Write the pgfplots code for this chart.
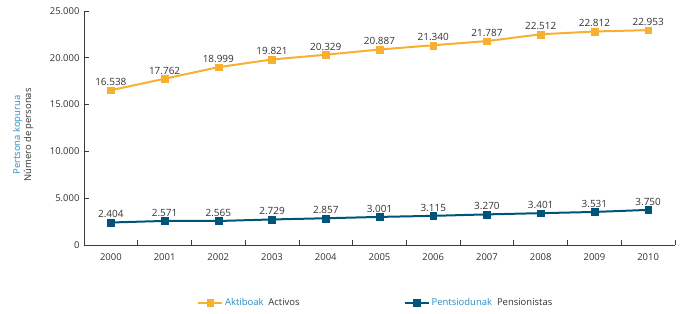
\documentclass[border=0pt]{standalone}
\usepackage{pgfplots}
\pgfplotsset{compat=1.18}
\usepackage{fontspec}
\setmainfont{Open Sans}
\definecolor{act}{RGB}{248,176,50}
\definecolor{pen}{RGB}{0,84,122}
\definecolor{lblue}{RGB}{42,140,196}
\definecolor{txt}{RGB}{51,51,51}
\definecolor{axc}{RGB}{60,60,60}
\begin{document}
\begin{tikzpicture}
\begin{axis}[
  scale only axis, width=591bp, height=234bp,
  xmin=-0.5, xmax=10.5, ymin=0, ymax=25000,
  axis lines=left, axis line style={axc, line width=0.8bp, -},
  every tick/.style={axc, line width=0.8bp},
  tick align=inside, major tick length=5bp,
  xtick={0.5,1.5,2.5,3.5,4.5,5.5,6.5,7.5,8.5,9.5,10.5},
  xticklabels={},
  extra x ticks={0,1,2,3,4,5,6,7,8,9,10},
  extra x tick labels={2000,2001,2002,2003,2004,2005,2006,2007,2008,2009,2010},
  extra x tick style={major tick length=0pt, tick style={draw=none}},
  ytick={0,5000,10000,15000,20000,25000},
  /pgf/number format/.cd, 1000 sep={.}, assume math mode=true,
  /pgfplots/.cd,
  scaled y ticks=false,
  tick label style={font=\fontsize{9.5}{11}\selectfont, text=txt},
  xticklabel style={yshift=-5bp},
  yticklabel style={xshift=-1bp},
  ylabel={\textcolor{lblue}{Pertsona kopurua}\\\textcolor{txt}{Número de personas}},
  ylabel style={at={(axis description cs:-0.103,0.47)}, anchor=center, align=center, font=\fontsize{9.5}{11}\selectfont},
  nodes near coords, nodes near coords align={above},
  every node near coord/.append style={font=\fontsize{10}{12}\selectfont, text=txt, yshift=1bp},
  legend columns=2,
  legend style={draw=none, at={(axis description cs:0.186,-0.248)}, anchor=west, font=\fontsize{9.5}{11}\selectfont, /tikz/every even column/.append style={column sep=102bp}},
  legend image code/.code={\draw[mark repeat=2,mark phase=2,#1] plot coordinates {(0bp,0bp) (12bp,0bp) (24bp,0bp)};},
  clip=false,
]
\addplot[act, line width=2bp, mark=square*, mark size=3.4bp, mark options={solid, line width=0.3bp}] coordinates {
(0,16538) (1,17762) (2,18999) (3,19821) (4,20329) (5,20887) (6,21340) (7,21787) (8,22512) (9,22812) (10,22953)};
\addlegendentry{\textcolor{lblue}{Aktiboak}\ \ \textcolor{txt}{Activos}}
\addplot[pen, line width=2bp, mark=square*, mark size=3.4bp, mark options={solid, line width=0.3bp}] coordinates {
(0,2404) (1,2571) (2,2565) (3,2729) (4,2857) (5,3001) (6,3115) (7,3270) (8,3401) (9,3531) (10,3750)};
\addlegendentry{\textcolor{lblue}{Pentsiodunak}\ \ \textcolor{txt}{Pensionistas}}
\end{axis}
\path[use as bounding box] (-84bp,-69bp) rectangle (598bp,245bp);
\end{tikzpicture}
\end{document}
